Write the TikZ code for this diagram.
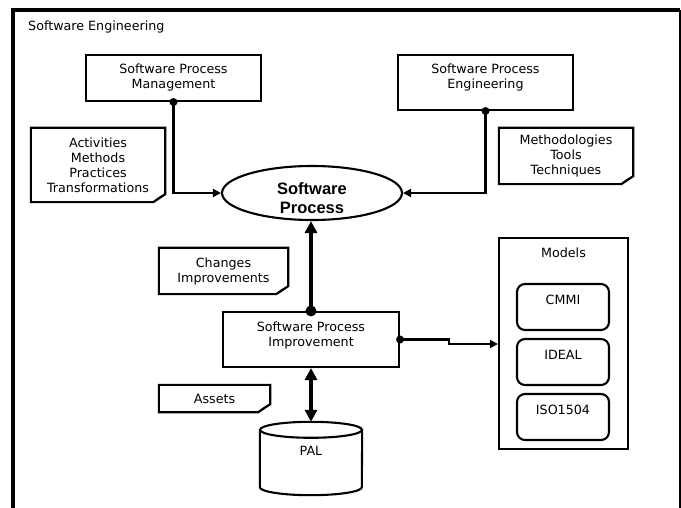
\documentclass[tikz,border=0pt]{standalone}
\usepackage{fontspec}
\setmainfont{DejaVu Sans}
\newfontfamily\boldsans{Liberation Sans}
\usetikzlibrary{arrows.meta,shapes.geometric}
\newcommand\mknote[6]{%
  \node[txt, minimum width=#4, minimum height=#5] (#1) at (#2,#3) {#6};
  \draw[noteline] (#1.north west) -- (#1.north east) -- ([yshift=8pt]#1.south east)
     -- ([xshift=-12pt]#1.south east) -- (#1.south west) -- cycle;
  \draw[noteline, line width=1.3pt] ([yshift=8pt]#1.south east) -- ([xshift=-7pt,yshift=4pt]#1.south east) -- ([xshift=-12pt]#1.south east);
}
\begin{document}
\begin{tikzpicture}[x=1pt,y=-1pt,
  txt/.style={font=\fontsize{12.7}{15}\selectfont, align=center, inner sep=0pt},
  boxline/.style={draw=black, line width=2.1pt},
  sqbox/.style={boxline, rectangle, inner sep=0pt},
  rbox/.style={boxline, rectangle, rounded corners=8pt, minimum width=92pt, minimum height=46pt, inner sep=0pt},
  noteline/.style={draw=black, line width=2.1pt, line join=miter},
  conn/.style={draw=black, line width=2.1pt, -{Triangle[length=8pt,width=8pt]}},
  heavyconn/.style={draw=black, line width=3.8pt, -{Triangle[length=12pt,width=12pt]}},
  heavyboth/.style={draw=black, line width=3.8pt, {Triangle[length=12pt,width=12pt]}-{Triangle[length=12pt,width=12pt]}},
  dot/.style={circle, fill=black, inner sep=0pt, minimum size=8pt},
  bigdot/.style={circle, fill=black, inner sep=0pt, minimum size=11pt}
]
\useasboundingbox (0,0) rectangle (681,508);
\fill[white] (0,0) rectangle (681,508);
% frame
\coordinate (fbl) at (13,508);
\coordinate (ftl) at (13,10);
\coordinate (ftr) at (680,10);
\coordinate (fbr) at (680,508);
\draw[line width=4pt] (fbl) -- (ftl) -- (ftr);
\draw[line width=1.5pt] (ftr) -- (fbr);
\node[txt, anchor=west] (se) at (28,27) {Software Engineering};

% main boxes
\node[sqbox, minimum width=175pt, minimum height=46pt] (spm) at (173.5,78) {};
\node[txt] (spmtxt) at (173.5,77.5) {Software Process\\Management};
\node[sqbox, minimum width=175pt, minimum height=55pt] (spe) at (485.5,82.5) {};
\node[txt] (spetxt) at (485.5,77.5) {Software Process\\Engineering};

\node[ellipse, boxline, minimum width=180pt, minimum height=54pt, inner sep=0pt] (sp) at (312,193) {};
\node[align=center, inner sep=0pt, font=\boldsans\bfseries\fontsize{16.5}{18.5}\selectfont] (sptxt) at (312,198) {Software\\Process};

\node[sqbox, minimum width=176pt, minimum height=55pt] (spi) at (311,339.5) {};
\node[txt] (spitxt) at (311,335) {Software Process\\Improvement};

% models
\node[sqbox, minimum width=129pt, minimum height=211pt] (models) at (563.5,343.5) {};
\node[txt] (modelstxt) at (563.5,253) {Models};
\node[rbox] (cmmi) at (563,307) {};
\node[txt] (cmmitxt) at (563,300) {CMMI};
\node[rbox] (ideal) at (563,362) {};
\node[txt] (idealtxt) at (563,355) {IDEAL};
\node[rbox] (iso) at (563,417) {};
\node[txt] (isotxt) at (563,410) {ISO1504};

% PAL cylinder
\node[minimum width=102pt, minimum height=73pt, inner sep=0pt] (pal) at (311,458.5) {};
\draw[boxline] ([yshift=-8pt]pal.north west) -- ([yshift=8pt]pal.south west)
   arc[start angle=180, end angle=360, x radius=51pt, y radius=8pt]
   -- ([yshift=-8pt]pal.north east);
\draw[boxline] ([yshift=-8pt]pal.north) ellipse [x radius=51pt, y radius=8pt];
\node[txt] (paltxt) at (311,451) {PAL};

% notes
\mknote{act}{98}{165}{134pt}{74pt}{Activities\\Methods\\Practices\\Transformations}
\mknote{meth}{566}{156}{134pt}{56pt}{Methodologies\\Tools\\Techniques}
\mknote{chg}{223.5}{271}{129pt}{46pt}{Changes\\Improvements}
\mknote{ass}{214.5}{398.5}{111pt}{27pt}{Assets}

% connectors
\draw[conn] (spm.south) |- (sp.west);
\node[dot] (d1) at (spm.south) {};
\draw[conn] (spe.south) |- (sp.east);
\node[dot] (d2) at (spe.south) {};
\draw[heavyconn] (spi.north) -- (spi.north |- sp.south);
\node[bigdot] (d3) at (spi.north) {};
\draw[heavyboth] (spi.south) -- (pal.north);
\coordinate (k1) at (449,339.5);
\coordinate (k2) at (449,344);
\draw[conn] (spi.east) -- (k1) -- (k2) -- (k2 -| models.west);
\node[dot] (d4) at (spi.east) {};
\end{tikzpicture}
\end{document}
